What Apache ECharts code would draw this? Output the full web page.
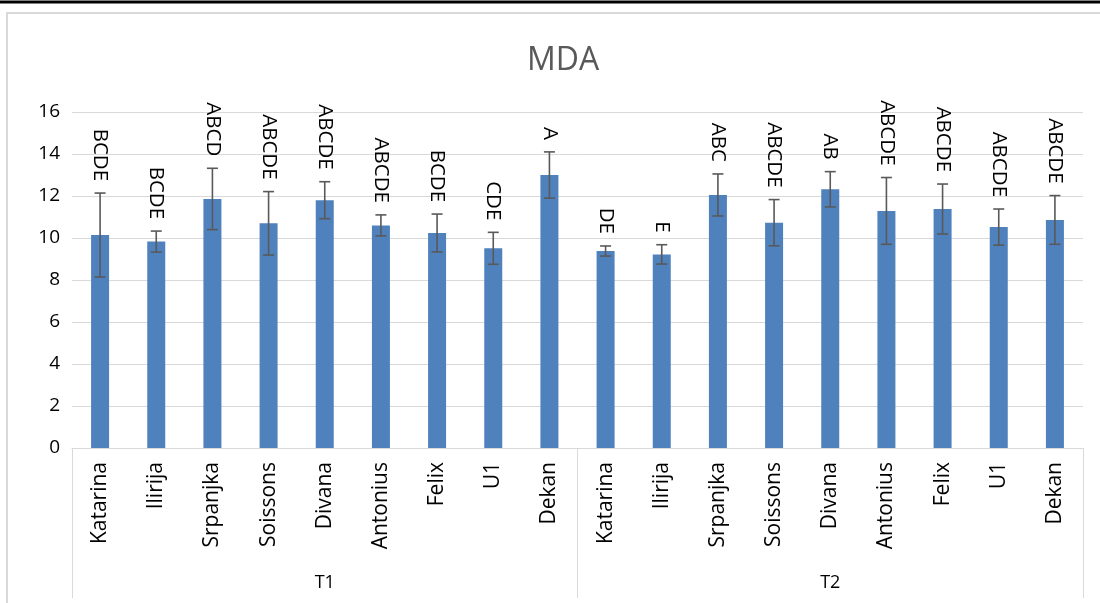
<!DOCTYPE html>
<html>
<head>
<meta charset="utf-8">
<script src="https://cdn.jsdelivr.net/npm/echarts@6/dist/echarts.min.js"></script>
<style>html,body{margin:0;padding:0;background:#fff;}#c{width:1100px;height:603px;}</style>
</head>
<body>
<div id="c"></div>
<script>
var cultivars = ['Katarina','Ilirija','Srpanjka','Soissons','Divana','Antonius','Felix','U1','Dekan'];
var groups = ['T1','T2'];
var yTicks = [0,2,4,6,8,10,12,14,16];
var meanT1 = [10.14, 9.83, 11.86, 10.70, 11.80, 10.60, 10.24, 9.51, 13.00];
var sdT1   = [2.00, 0.50, 1.46, 1.51, 0.88, 0.50, 0.90, 0.76, 1.10];
var lettersT1 = ['BCDE','BCDE','ABCD','ABCDE','ABCDE','ABCDE','BCDE','CDE','A'];
var meanT2 = [9.38, 9.22, 12.05, 10.73, 12.32, 11.29, 11.38, 10.52, 10.86];
var sdT2   = [0.24, 0.46, 1.00, 1.10, 0.84, 1.59, 1.19, 0.86, 1.16];
var lettersT2 = ['DE','E','ABC','ABCDE','AB','ABCDE','ABCDE','ABCDE','ABCDE'];

var cats = cultivars.concat(cultivars);
var means = meanT1.concat(meanT2);
var sds = sdT1.concat(sdT2);
var letters = lettersT1.concat(lettersT2);
var errData = means.map(function(m, i){ return [i, m]; });

var FONT = 'Open Sans';
var chart = echarts.init(document.getElementById('c'), null, {renderer:'canvas'});
chart.setOption({
  animation: false,
  backgroundColor: '#fff',
  title: {
    text: 'MDA', left: 522, top: 40,
    textStyle: {fontFamily: FONT, fontSize: 32, fontWeight: 'normal', color: '#595959'}
  },
  graphic: [
    {type:'rect', shape:{x:0, y:0.5, width:1100, height:3}, style:{fill:'#000'}},
    {type:'polyline', shape:{points:[[7,603],[7,13],[1100,13]]}, style:{stroke:'#d9d9d9', lineWidth:2, fill:null}}
  ],
  grid: {left: 72, right: 17, top: 112, bottom: 155},
  xAxis: [
    {
      type: 'category', data: cats, position: 'bottom',
      axisLine: {show: true, lineStyle: {color: '#d9d9d9', width: 1}},
      axisTick: {show: false},
      axisLabel: {interval: 0, rotate: 90, margin: 14, fontFamily: FONT, fontSize: 21, color: '#000'},
      splitLine: {show: false}
    },
    {
      type: 'category', data: groups, position: 'bottom', gridIndex: 0,
      axisLine: {show: false},
      axisTick: {show: true, interval: 0, length: 150, lineStyle: {color: '#d9d9d9', width: 1}},
      axisLabel: {interval: 0, margin: 126, fontFamily: FONT, fontSize: 18, color: '#000'},
      splitLine: {show: false}
    }
  ],
  yAxis: {
    type: 'value', min: 0, max: 16, interval: 2,
    axisLine: {show: false}, axisTick: {show: false},
    axisLabel: {margin: 12, fontFamily: FONT, fontSize: 19, color: '#000',
      formatter: function(v){ return yTicks.indexOf(v) >= 0 ? String(v) : ''; }},
    splitLine: {lineStyle: {color: '#d9d9d9', width: 1}}
  },
  series: [
    {
      type: 'bar', data: means, barWidth: 18, xAxisIndex: 0,
      itemStyle: {color: '#4f81bd'}
    },
    {
      type: 'custom', xAxisIndex: 0, data: errData, encode: {x: 0, y: 1}, z: 5,
      renderItem: function(params, api){
        var i = api.value(0);
        var m = api.value(1);
        var hi = api.coord([i, m + sds[i]]);
        var lo = api.coord([i, m - sds[i]]);
        var half = 5.5;
        var st = {stroke: '#595959', lineWidth: 1.6};
        return {
          type: 'group',
          children: [
            {type:'line', shape:{x1:hi[0], y1:hi[1], x2:lo[0], y2:lo[1]}, style: st},
            {type:'line', shape:{x1:hi[0]-half, y1:hi[1], x2:hi[0]+half, y2:hi[1]}, style: st},
            {type:'line', shape:{x1:lo[0]-half, y1:lo[1], x2:lo[0]+half, y2:lo[1]}, style: st},
            {type:'text', x: hi[0], y: hi[1] - 12, rotation: -Math.PI/2,
              style: {text: letters[i], fill: '#000', fontFamily: FONT, fontSize: 20.5,
                      align: 'right', verticalAlign: 'middle'}}
          ]
        };
      }
    }
  ]
});
</script>
</body>
</html>
